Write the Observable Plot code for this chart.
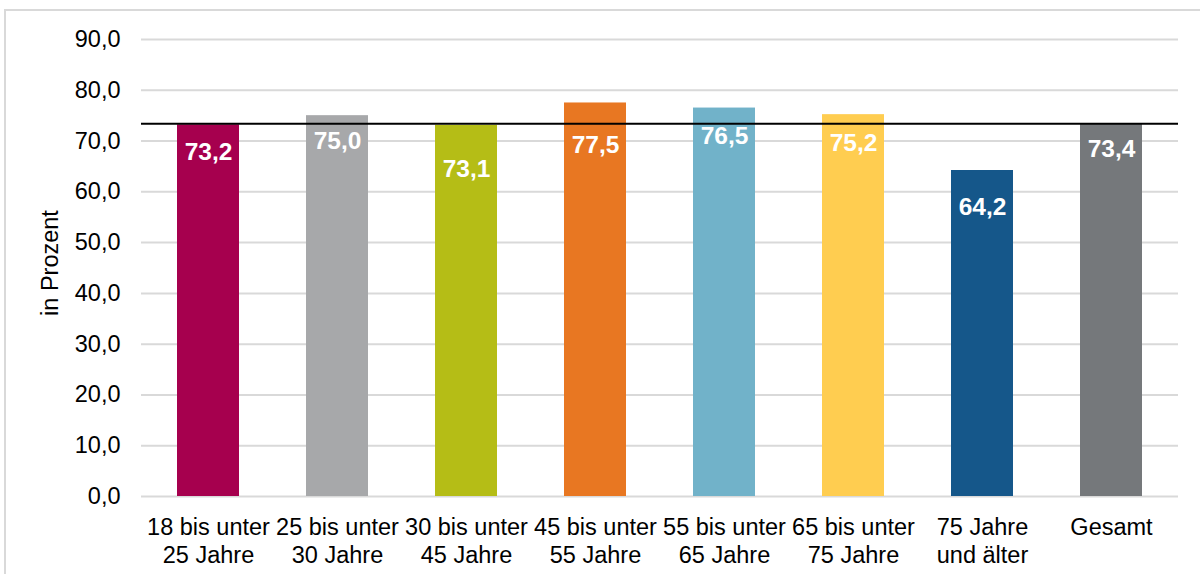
<!DOCTYPE html>
<html>
<head>
<meta charset="utf-8">
<script src="https://cdn.jsdelivr.net/npm/d3@7"></script>
<script src="https://cdn.jsdelivr.net/npm/@observablehq/plot@0.6"></script>
<style>
  body { margin: 0; background: #fff; }
  #frame { position: relative; width: 1200px; height: 574px; overflow: hidden; }
  #border { position: absolute; left: 4px; top: 9px; width: 1220px; height: 620px; border: 2px solid #d9d9d9; box-sizing: border-box; }
  #chart { position: absolute; left: 0; top: 0; }
</style>
</head>
<body>
<div id="frame"><div id="border"></div><div id="chart"></div></div>
<script>
// Age groups (category keys) and their two-line axis labels
const categories = ["18-25", "25-30", "30-45", "45-55", "55-65", "65-75", "75+", "Gesamt"];
const categoryLabels = [
  "18 bis unter\n25 Jahre",
  "25 bis unter\n30 Jahre",
  "30 bis unter\n45 Jahre",
  "45 bis unter\n55 Jahre",
  "55 bis unter\n65 Jahre",
  "65 bis unter\n75 Jahre",
  "75 Jahre\nund älter",
  "Gesamt"
];
// Share in percent
const values = [73.2, 75.0, 73.1, 77.5, 76.5, 75.2, 64.2, 73.4];
const barColors = ["#A6004E", "#A7A8AA", "#B5BD16", "#E87722", "#71B2C9", "#FFCD50", "#15578A", "#75787B"];
const yTicks = [0, 10, 20, 30, 40, 50, 60, 70, 80, 90];
// Vertical offset of each value label below the top of its bar (px)
const labelOffsets = [27, 25, 44, 42, 28, 29, 37, 25];

const referenceValue = values[categories.indexOf("Gesamt")];
const labelOf = new Map(categories.map((c, i) => [c, categoryLabels[i]]));
const fmt = v => v.toFixed(1).replace(".", ",");

const data = categories.map((c, i) => ({ category: c, value: values[i], offset: labelOffsets[i] }));

const font = '"Liberation Sans", Arial, sans-serif';

const chart = Plot.plot({
  width: 1200,
  height: 574,
  marginLeft: 141,
  marginRight: 22,
  marginTop: 39,
  marginBottom: 78,
  style: { fontFamily: font, background: "transparent", color: "#000" },
  x: { domain: categories, paddingInner: 0.52, paddingOuter: 0.26, label: null },
  y: { domain: [0, 90], label: null },
  color: { domain: categories, range: barColors },
  marks: [
    Plot.ruleY(yTicks, { stroke: "#d9d9d9", strokeWidth: 2 }),
    Plot.barY(data, { x: "category", y: "value", fill: "category" }),
    Plot.ruleY([referenceValue], { stroke: "#000", strokeWidth: 2 }),
    // value labels, placed inside the bars
    ...data.map(d => Plot.text([d], {
      x: "category", y: "value", text: r => fmt(r.value),
      fill: "white", fontWeight: "bold", fontSize: 24.5, dy: d.offset,
      lineAnchor: "middle", textAnchor: "middle"
    })),
    Plot.axisY({ ticks: yTicks, tickSize: 0, tickPadding: 21, tickFormat: fmt, fontSize: 23.5, label: null }),
    Plot.axisX({ tickSize: 0, tickPadding: 19, tickFormat: c => labelOf.get(c), fontSize: 23.5, lineHeight: 1.19, label: null }),
    Plot.text(["in Prozent"], {
      frameAnchor: "left", dx: -91, rotate: -90, fontSize: 23.5,
      textAnchor: "middle", lineAnchor: "middle", dy: -5
    })
  ]
});

document.getElementById("chart").appendChild(chart);
</script>
</body>
</html>
